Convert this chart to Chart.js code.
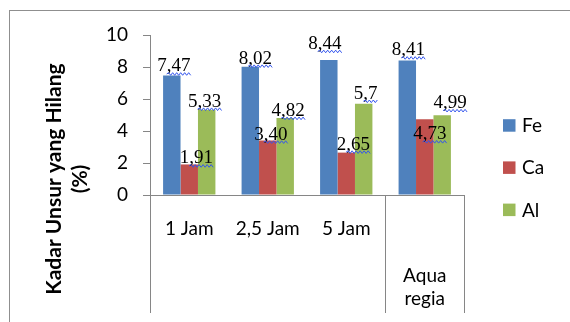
<!DOCTYPE html>
<html>
<head>
<meta charset="utf-8">
<title>Kadar Unsur yang Hilang</title>
<script src="https://cdn.jsdelivr.net/npm/chart.js@4.4.1/dist/chart.umd.min.js"></script>
<style>
  html, body { margin: 0; padding: 0; background: #ffffff; }
  #wrap { width: 570px; height: 322px; }
</style>
</head>
<body>
<div id="wrap"><canvas id="chart" width="570" height="322"></canvas></div>
<script>
// Categories (the last one sits on the second axis level)
const categories = ['1 Jam', '2,5 Jam', '5 Jam', ['', '', 'Aqua', 'regia']];

// Series values as printed on the bars
const feText = ['7,47', '8,02', '8,44', '8,41'];
const caText = ['1,91', '3,40', '2,65', '4,73'];
const alText = ['5,33', '4,82', '5,7', '4,99'];

const toNumber = t => parseFloat(t.replace(',', '.'));
const feValues = feText.map(toNumber);
const caValues = caText.map(toNumber);
const alValues = alText.map(toNumber);

// Y axis tick values
const yTicks = [0, 2, 4, 6, 8, 10];

const seriesNames = ['Fe', 'Ca', 'Al'];
const seriesColors = ['#4F81BD', '#C0504D', '#9BBB59'];

const AXIS_GREY = '#868686';
const SANS = 'Lato, "Open Sans", sans-serif';

// Hand-placed label nudges (dx, dy) relative to each bar's top centre
const labelNudge = [
  [[2, -4], [5, -3], [-4, -11], [1, -5]],
  [[7, -1], [3, -1], [7, -3], [5, 20]],
  [[-2, -3], [3, -2], [2, -5], [8, -7]]
];

// Value labels with the little wavy underline under the decimals
const valueLabels = {
  id: 'valueLabels',
  afterDatasetsDraw(chart) {
    const ctx = chart.ctx;
    ctx.save();
    ctx.font = '19px "Liberation Serif", "Times New Roman", serif';
    ctx.textAlign = 'left';
    ctx.textBaseline = 'alphabetic';
    chart.data.datasets.forEach((ds, i) => {
      const meta = chart.getDatasetMeta(i);
      meta.data.forEach((bar, j) => {
        const text = ds.labelText[j];
        const w = ctx.measureText(text).width;
        const nudge = labelNudge[i][j];
        const x0 = bar.x + nudge[0] - w / 2;
        const y = bar.y + nudge[1];
        ctx.fillStyle = '#000000';
        ctx.fillText(text, x0, y);
        // wavy underline from the comma to the end of the text
        const comma = text.indexOf(',');
        const sx = x0 + ctx.measureText(text.slice(0, comma)).width;
        const ex = x0 + w + 1;
        ctx.beginPath();
        ctx.strokeStyle = '#3355ee';
        ctx.lineWidth = 1;
        const base = y + 2.5;
        let up = true;
        ctx.moveTo(sx, base);
        for (let px = sx + 2; px <= ex + 0.01; px += 2) {
          ctx.lineTo(px, base + (up ? -1.3 : 1.3));
          up = !up;
        }
        ctx.stroke();
      });
    });
    ctx.restore();
  }
};

// Frame, axis title and legend
const decorations = {
  id: 'decorations',
  beforeDraw(chart) {
    const ctx = chart.ctx;
    ctx.save();
    ctx.fillStyle = '#ffffff';
    ctx.fillRect(0, 0, chart.width, chart.height);
    ctx.strokeStyle = '#8f8f8f';
    ctx.lineWidth = 1;
    ctx.strokeRect(9.5, 10.5, chart.width + 10, chart.height + 10);
    ctx.restore();
  },
  afterDraw(chart) {
    const ctx = chart.ctx;
    ctx.save();
    // rotated axis title, two lines
    ctx.translate(54, 179);
    ctx.rotate(-Math.PI / 2);
    ctx.fillStyle = '#000000';
    ctx.font = 'bold 21px ' + SANS;
    ctx.textAlign = 'center';
    ctx.textBaseline = 'middle';
    ctx.fillText('Kadar Unsur yang Hilang', 0, 0);
    ctx.fillText('(%)', 0, 26);
    ctx.restore();

    // legend
    ctx.save();
    ctx.font = '19px ' + SANS;
    ctx.textBaseline = 'middle';
    ctx.textAlign = 'left';
    chart.data.datasets.forEach((ds, i) => {
      const cy = 125.5 + i * 42.2;
      ctx.fillStyle = ds.backgroundColor;
      ctx.fillRect(503, cy - 6.3, 12.5, 12.5);
      ctx.fillStyle = '#000000';
      ctx.fillText(ds.label, 522, cy + 0.5);
    });
    ctx.restore();
  }
};

const datasets = [feValues, caValues, alValues].map((vals, i) => ({
  label: seriesNames[i],
  data: vals,
  labelText: [feText, caText, alText][i],
  backgroundColor: seriesColors[i],
  borderWidth: 0,
  categoryPercentage: 3 / 4.5,
  barPercentage: 1.0
}));

new Chart(document.getElementById('chart'), {
  type: 'bar',
  data: { labels: categories, datasets },
  plugins: [decorations, valueLabels],
  options: {
    responsive: false,
    animation: false,
    devicePixelRatio: 1,
    layout: { padding: { top: 35, right: 106, left: 0, bottom: 0 } },
    plugins: {
      legend: { display: false },
      tooltip: { enabled: false }
    },
    scales: {
      x: {
        type: 'category',
        offset: true,
        afterFit(scale) { scale.height = 127; },
        grid: {
          offset: true,
          drawOnChartArea: false,
          drawTicks: true,
          tickLength: 118,
          lineWidth: 1,
          color: c => (c.index === 1 || c.index === 2) ? 'rgba(0,0,0,0)' : AXIS_GREY
        },
        border: { display: true, color: AXIS_GREY },
        ticks: {
          autoSkip: false,
          maxRotation: 0,
          minRotation: 0,
          padding: -96,
          color: '#000000',
          font: { family: SANS, size: 19, lineHeight: '23.5px' }
        }
      },
      y: {
        min: 0,
        max: 10,
        afterFit(scale) { scale.width = 150; },
        afterBuildTicks(scale) { scale.ticks = yTicks.map(v => ({ value: v })); },
        grid: {
          drawOnChartArea: false,
          drawTicks: true,
          tickLength: 7,
          color: AXIS_GREY
        },
        border: { display: true, color: AXIS_GREY },
        ticks: {
          padding: 15,
          color: '#000000',
          font: { family: SANS, size: 19 }
        }
      }
    }
  }
});
</script>
</body>
</html>
